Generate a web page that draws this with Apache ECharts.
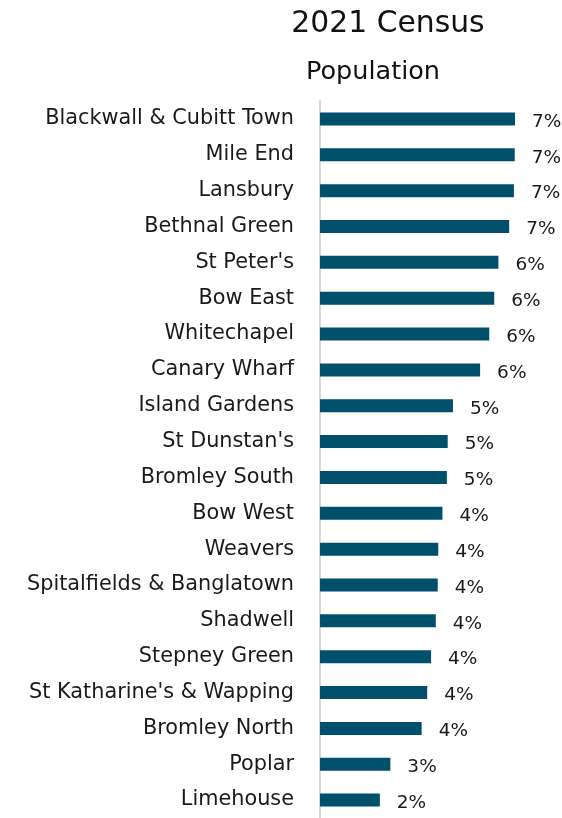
<!DOCTYPE html>
<html>
<head>
<meta charset="utf-8">
<script src="https://cdn.jsdelivr.net/npm/echarts@6/dist/echarts.min.js"></script>
<style>
  html, body { margin: 0; padding: 0; background: #ffffff; }
  #chart { width: 562px; height: 818px; }
</style>
</head>
<body>
<div id="chart"></div>
<script>
// Ward names, top to bottom
const wards = [
  "Blackwall & Cubitt Town", "Mile End", "Lansbury", "Bethnal Green",
  "St Peter's", "Bow East", "Whitechapel", "Canary Wharf",
  "Island Gardens", "St Dunstan's", "Bromley South", "Bow West",
  "Weavers", "Spitalfields & Banglatown", "Shadwell", "Stepney Green",
  "St Katharine's & Wapping", "Bromley North", "Poplar", "Limehouse"
];

// Share of borough population (%)
const share = [
  7.04, 7.03, 7.00, 6.83,
  6.44, 6.29, 6.11, 5.78,
  4.80, 4.61, 4.58, 4.42,
  4.27, 4.25, 4.18, 4.01,
  3.87, 3.67, 2.54, 2.16
];

const titleText = "2021 Census";
const subtitleText = "Population";

const FONT = "'DejaVu Sans', 'Noto Sans', sans-serif";
const chart = echarts.init(document.getElementById('chart'), null, { renderer: 'canvas' });

chart.setOption({
  animation: false,
  backgroundColor: '#ffffff',
  title: [
    {
      text: titleText,
      left: 383, top: 4, textAlign: 'center',
      textStyle: { fontFamily: FONT, fontSize: 29.8, fontWeight: 'normal', color: '#111111' }
    },
    {
      text: subtitleText,
      left: 368, top: 54, textAlign: 'center',
      textStyle: { fontFamily: FONT, fontSize: 25.5, fontWeight: 'normal', color: '#111111' }
    }
  ],
  grid: { left: 320, top: 101, width: 221.6, height: 726, containLabel: false },
  xAxis: {
    type: 'value', min: 0, max: 8,
    show: false
  },
  yAxis: {
    type: 'category',
    data: wards,
    inverse: true,
    axisTick: { show: false },
    axisLine: { show: true, lineStyle: { color: '#d9d9d9', width: 2 } },
    axisLabel: { margin: 26, fontFamily: FONT, fontSize: 20.8, color: '#1a1a1a' }
  },
  series: [{
    type: 'bar',
    data: share,
    barWidth: 13,
    itemStyle: { color: '#004f6b' },
    label: {
      show: true,
      position: 'right',
      distance: 17,
      offset: [0, 3],
      fontFamily: FONT, fontSize: 18.5, color: '#1a1a1a',
      formatter: p => Math.round(p.value) + '%'
    }
  }]
});
</script>
</body>
</html>
